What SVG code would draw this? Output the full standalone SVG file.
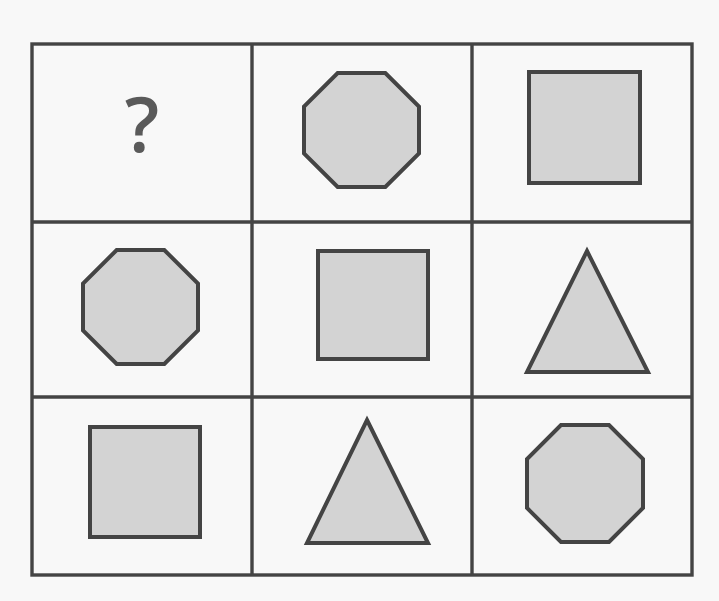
<svg xmlns="http://www.w3.org/2000/svg" width="719" height="601" viewBox="0 0 719 601">
<style>
.grid{fill:none;stroke:#444;stroke-width:3.4}
.shape{fill:#d3d3d3;stroke:#444;stroke-width:4;stroke-linejoin:miter}
.q{font-family:"Open Sans","Liberation Sans",sans-serif;font-size:76px;font-weight:600;fill:#5a5a5a;text-anchor:middle}
</style>
<rect x="0" y="0" width="719" height="601" fill="#f8f8f8"/>
<g id="grid">
<rect class="grid" x="32" y="44" width="660" height="531"/>
<line class="grid" x1="252" y1="44" x2="252" y2="575"/>
<line class="grid" x1="472" y1="44" x2="472" y2="575"/>
<line class="grid" x1="32" y1="222" x2="692" y2="222"/>
<line class="grid" x1="32" y1="397" x2="692" y2="397"/>
</g>
<g id="cell-1-1"><text class="q" x="142" y="152">?</text></g>
<g id="cell-1-2"><polygon class="shape" points="337.7,73 385.3,73 419,106.7 419,153.3 385.3,187 337.7,187 304,153.3 304,106.7"/></g>
<g id="cell-1-3"><rect class="shape" x="529" y="72" width="111" height="111"/></g>
<g id="cell-2-1"><polygon class="shape" points="116.7,250 164.3,250 198,283.7 198,330.3 164.3,364 116.7,364 83,330.3 83,283.7"/></g>
<g id="cell-2-2"><rect class="shape" x="318" y="251" width="110" height="108"/></g>
<g id="cell-2-3"><polygon class="shape" points="587,251 648,372 527,372"/></g>
<g id="cell-3-1"><rect class="shape" x="90" y="427" width="110" height="110"/></g>
<g id="cell-3-2"><polygon class="shape" points="367,420 428,543 307,543"/></g>
<g id="cell-3-3"><polygon class="shape" points="561,425 609,425 643,459 643,508 609,542 561,542 527,508 527,459"/></g>
</svg>
